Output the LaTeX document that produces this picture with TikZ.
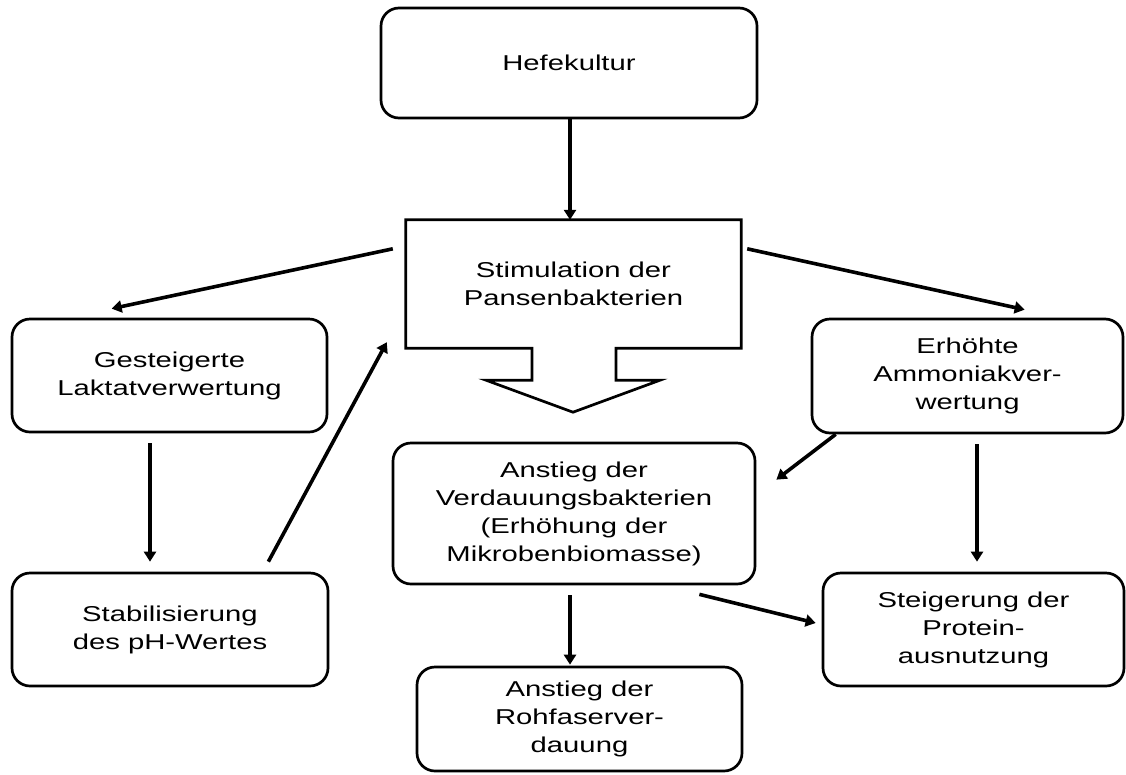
\documentclass[tikz,border=0pt]{standalone}
\usepackage{fontspec}
\setmainfont[FakeStretch=1.36]{Liberation Sans}
\usetikzlibrary{arrows.meta,calc}

\tikzset{
  box/.style={draw, line width=2.7pt, rounded corners=18pt, align=center,
    font=\fontsize{21.5}{28}\selectfont, inner sep=0pt},
  arr/.style={line width=3.6pt, -{Triangle[length=10pt,width=12pt]}},
}

\begin{document}
\begin{tikzpicture}[x=1pt, y=-1pt]
\useasboundingbox (0,0) rectangle (1126,774);

% boxes
\node[box, minimum width=376pt, minimum height=110pt] (hefe) at (569,63) {Hefekultur};
\node[align=center, font=\fontsize{21.5}{28}\selectfont, inner sep=0pt,
      minimum width=335pt, minimum height=128pt] (stim) at (573.5,284)
      {Stimulation der\\Pansenbakterien};
\node[box, minimum width=315pt, minimum height=113pt] (gest) at (169.5,375.5)
      {Gesteigerte\\Laktatverwertung};
\node[box, minimum width=316pt, minimum height=113pt] (stab) at (170,629.5)
      {Stabilisierung\\des pH-Wertes};
\node[box, minimum width=311pt, minimum height=114pt] (erh) at (967.5,376)
      {Erhöhte\\Ammoniakver-\\wertung};
\node[box, minimum width=362pt, minimum height=141pt] (verd) at (574,513.5)
      {Anstieg der\\Verdauungsbakterien\\(Erhöhung der\\Mikrobenbiomasse)};
\node[box, minimum width=301pt, minimum height=113pt] (steig) at (973.5,629.5)
      {Steigerung der\\Protein-\\ausnutzung};
\node[box, minimum width=325pt, minimum height=104pt] (rohf) at (579.5,719)
      {Anstieg der\\Rohfaserver-\\dauung};

% block-arrow outline of the stimulation box
\draw[line width=2.7pt, line join=miter]
  (stim.north west) -- (stim.north east) -- (stim.south east)
  -- ($(stim.south)+(42.5,0)$) -- ($(stim.south)+(42.5,32)$)
  -- ($(stim.south)+(86.5,32)$) -- ($(stim.south)+(-0.5,64)$)
  -- ($(stim.south)+(-87.5,32)$) -- ($(stim.south)+(-41.5,32)$)
  -- ($(stim.south)+(-41.5,0)$) -- (stim.south west) -- cycle;

% connectors
\draw[arr] ($(hefe.south)+(1,0)$) -- ($(stim.north)+(-3.5,0)$);
\draw[arr] ($(stim.north west)+(-13,29)$) -- ($(gest.north west)+(101,-9)$);
\draw[arr] ($(stim.north east)+(6,29)$) -- ($(erh.north west)+(214,-8)$);
\draw[arr] ($(gest.south)+(-19.5,10)$) -- ($(stab.north)+(-20,-10)$);
\draw[arr] ($(stab.north east)+(-61,-10)$) -- ($(stim.south west)+(-19,-6)$);
\draw[arr] ($(erh.south west)+(25,0)$) -- ($(verd.north east)+(20,38)$);
\draw[arr] ($(erh.south)+(9.5,10)$) -- ($(steig.north)+(3.5,-10)$);
\draw[arr] ($(verd.south)+(-4,10)$) -- ($(rohf.north)+(-9.5,-1)$);
\draw[arr] ($(verd.south east)+(-57,9)$) -- ($(steig.west)+(-6,-6.5)$);
\end{tikzpicture}
\end{document}
